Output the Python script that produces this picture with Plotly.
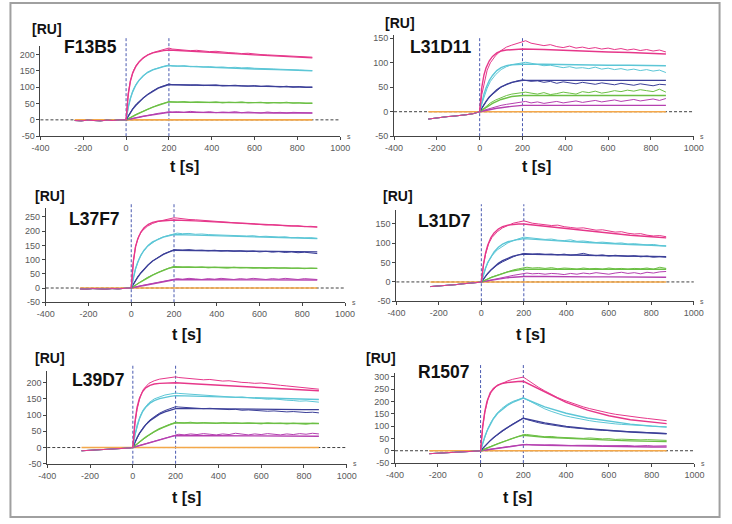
import plotly.graph_objects as go

# ---------------- data ----------------
T_PRE = [-240, -210, -180, -150, -120, -90, -60, -30, -10]
T_ASSOC = [0, 10, 20, 35, 50, 75, 100, 125, 150, 175, 200]
T_DISS = [215, 240, 270, 300, 330, 360, 390, 420, 450, 480, 510, 540,
          570, 600, 630, 660, 690, 720, 750, 780, 810, 840, 870]
T_FIT = [0, 5, 10, 20, 30, 45, 60, 80, 100, 125, 150, 175, 200,
         300, 400, 500, 600, 700, 800, 870]
T_BLANK = [-240, 870]
BLANK = [0, 0]
INJECTION = [0, 200]
X_TICKS = [-400, -200, 0, 200, 400, 600, 800, 1000]
CONC_COLORS = ["#e6378a", "#5cc6d6", "#3b3f98", "#6cbf45", "#b540b0"]
BLANK_COLOR = "#f4a84a"

PANELS = ["F13B5", "L31D11", "L37F7", "L31D7", "L39D7", "R1507"]

# ---- F13B5 ----
F13B5_YTICKS = [-50, 0, 50, 100, 150, 200]
F13B5_BASE = [-2, -3, -1, -2, -3, -1, -2, 0, -1]
F13B5_MEAS = [
    [0, 80, 120, 152, 170, 186, 199, 206, 211, 215, 220,
     217, 215, 214, 212, 213, 210, 209, 210, 207, 206, 205, 203, 204, 201, 200, 199, 198, 196, 195, 194, 193, 191, 192],
    [0, 39, 66, 95, 113, 131, 146, 154, 160, 164, 168,
     165, 164, 166, 163, 164, 162, 163, 161, 162, 160, 161, 159, 160, 158, 158, 157, 156, 155, 155, 153, 153, 152, 151],
    [0, 12, 24, 38, 50, 64, 78, 89, 98, 104, 110,
     108, 107, 108, 106, 107, 105, 106, 107, 104, 105, 106, 104, 103, 105, 102, 104, 103, 101, 103, 100, 102, 99, 100],
    [0, 3, 8, 13, 18, 25, 33, 40, 46, 51, 56,
     55, 54, 56, 53, 55, 54, 53, 55, 52, 54, 53, 55, 52, 53, 54, 51, 53, 52, 54, 51, 52, 50, 51],
    [0, 1, 3, 5, 7, 10, 14, 17, 20, 22, 25,
     24, 25, 23, 26, 24, 23, 25, 22, 24, 23, 25, 22, 24, 23, 21, 24, 22, 23, 21, 23, 22, 20, 21],
]
F13B5_FIT = [
    [0, 45, 78, 118, 142, 163, 177, 190, 198, 205, 209, 212, 214, 211, 207, 203, 199, 196, 192, 190],
    [0, 20, 38, 65, 85, 106, 121, 135, 145, 153, 159, 163, 166, 163, 161, 158, 156, 154, 151, 150],
    [0, 6, 12, 23, 32, 44, 55, 67, 77, 88, 97, 103, 108, 107, 106, 105, 104, 103, 101, 100],
    [0, 2, 3, 7, 10, 15, 20, 26, 32, 39, 45, 50, 55, 54, 54, 53, 53, 52, 52, 51],
    [0, 0.5, 1, 2, 4, 6, 8, 11, 13, 16, 19, 21, 23, 23, 22, 22, 22, 21, 21, 21],
]

# ---- L31D11 ----
L31D11_YTICKS = [-50, 0, 50, 100, 150]
L31D11_BASE = [-15, -13, -12, -10, -9, -8, -6, -4, -2]
L31D11_MEAS = [
    [0, 35, 58, 85, 100, 115, 125, 132, 136, 140, 143,
     145, 140, 138, 135, 137, 133, 131, 134, 130, 132, 129, 131, 128, 130, 127, 129, 126, 128, 125, 127, 124, 126, 122],
    [0, 16, 30, 48, 62, 76, 86, 92, 96, 98, 100,
     101, 99, 96, 94, 95, 92, 90, 92, 89, 90, 88, 91, 87, 89, 86, 88, 85, 87, 84, 86, 83, 85, 80],
    [0, 7, 14, 24, 32, 42, 50, 56, 60, 63, 65,
     64, 62, 63, 60, 62, 58, 61, 59, 57, 60, 58, 56, 59, 57, 55, 58, 56, 54, 57, 55, 53, 56, 55],
    [0, 3, 7, 13, 18, 24, 29, 33, 36, 38, 39,
     40, 38, 36, 39, 35, 37, 40, 38, 36, 41, 39, 42, 38, 40, 43, 41, 44, 42, 45, 43, 41, 46, 40],
    [0, 1, 3, 5, 7, 10, 13, 15, 17, 19, 20,
     21, 18, 20, 17, 19, 21, 18, 20, 22, 19, 21, 23, 20, 22, 24, 21, 23, 25, 22, 24, 26, 23, 27],
]
L31D11_FIT = [
    [0, 30, 50, 75, 90, 104, 113, 120, 124, 126, 127, 128, 128, 127, 125, 124, 122, 121, 119, 118],
    [0, 10, 20, 36, 49, 64, 74, 84, 90, 94, 96, 97, 97, 97, 96, 96, 95, 95, 95, 94],
    [0, 4, 8, 15, 21, 30, 37, 45, 51, 56, 60, 62, 64, 64, 64, 64, 64, 64, 64, 64],
    [0, 1.5, 3, 6, 9, 13, 17, 21, 25, 28, 31, 32, 33, 33, 33, 33, 33, 33, 33, 33],
    [0, 0.5, 1, 2, 3, 4, 5, 7, 8, 10, 11, 12, 13, 13, 13, 13, 13, 13, 13, 13],
]

# ---- L37F7 ----
L37F7_YTICKS = [-50, 0, 50, 100, 150, 200, 250]
L37F7_BASE = [-3, -4, -2, -3, -4, -2, -3, -1, -1]
L37F7_MEAS = [
    [0, 93, 146, 182, 200, 217, 227, 234, 239, 243, 247,
     246, 243, 241, 240, 238, 237, 235, 233, 232, 230, 228, 227, 225, 224, 222, 223, 220, 219, 218, 219, 216, 217, 215],
    [0, 37, 67, 100, 122, 146, 160, 172, 180, 186, 192,
     193, 191, 192, 189, 190, 188, 187, 188, 185, 186, 184, 183, 184, 181, 182, 180, 179, 180, 177, 178, 176, 177, 174],
    [0, 14, 27, 44, 58, 79, 95, 108, 119, 127, 135,
     134, 133, 135, 132, 133, 131, 133, 130, 132, 129, 131, 128, 130, 127, 129, 126, 128, 125, 127, 124, 126, 123, 121],
    [0, 5, 10, 18, 26, 37, 46, 55, 63, 70, 76,
     75, 73, 74, 72, 74, 71, 73, 72, 70, 73, 71, 72, 70, 71, 69, 72, 70, 71, 69, 70, 68, 70, 69],
    [0, 2, 3, 6, 9, 13, 17, 21, 25, 28, 32,
     33, 31, 34, 32, 30, 33, 31, 34, 32, 30, 33, 31, 34, 32, 30, 33, 31, 34, 32, 30, 33, 31, 30],
]
L37F7_FIT = [
    [0, 55, 95, 145, 172, 197, 212, 224, 231, 235, 237, 238, 239, 236, 232, 227, 223, 219, 216, 214],
    [0, 20, 38, 68, 90, 115, 133, 150, 162, 172, 179, 184, 188, 186, 184, 181, 179, 177, 175, 174],
    [0, 7, 14, 27, 38, 53, 66, 82, 95, 108, 118, 126, 133, 132, 131, 130, 129, 128, 127, 127],
    [0, 2, 5, 10, 15, 22, 29, 37, 45, 54, 62, 69, 74, 73, 72, 72, 71, 70, 70, 69],
    [0, 1, 2, 3, 5, 7, 9, 12, 15, 19, 23, 26, 29, 29, 29, 29, 28, 28, 28, 28],
]

# ---- L31D7 ----
L31D7_YTICKS = [-50, 0, 50, 100, 150]
L31D7_BASE = [-12, -11, -10, -9, -7, -5, -4, -2, -1]
L31D7_MEAS = [
    [0, 45, 72, 100, 115, 130, 140, 147, 152, 155, 158,
     156, 152, 150, 148, 146, 147, 143, 141, 139, 140, 136, 134, 135, 131, 129, 130, 126, 124, 125, 121, 119, 120, 117],
    [0, 20, 36, 55, 68, 83, 93, 101, 107, 112, 116,
     115, 113, 112, 110, 111, 108, 107, 109, 105, 106, 104, 102, 103, 101, 100, 101, 98, 99, 97, 96, 97, 94, 93],
    [0, 8, 15, 25, 33, 44, 52, 59, 65, 70, 74,
     73, 72, 73, 71, 72, 70, 72, 69, 71, 74, 70, 68, 70, 67, 69, 68, 66, 68, 65, 67, 64, 66, 64],
    [0, 2, 5, 9, 13, 18, 23, 27, 31, 34, 37,
     38, 36, 37, 35, 37, 34, 36, 35, 33, 36, 34, 35, 33, 36, 34, 35, 33, 35, 34, 36, 33, 38, 35],
    [0, 1, 2, 4, 6, 9, 11, 14, 17, 20, 22,
     23, 21, 22, 20, 22, 21, 19, 22, 20, 23, 21, 24, 22, 20, 23, 25, 22, 24, 21, 25, 23, 26, 27],
]
L31D7_FIT = [
    [0, 25, 45, 75, 95, 115, 127, 137, 143, 147, 149, 150, 150, 144, 138, 132, 126, 121, 117, 114],
    [0, 10, 20, 36, 50, 66, 78, 90, 98, 104, 108, 110, 112, 108, 105, 102, 99, 97, 95, 93],
    [0, 4, 8, 15, 22, 31, 39, 48, 55, 62, 67, 70, 72, 71, 70, 69, 68, 67, 66, 65],
    [0, 1, 2, 5, 7, 11, 14, 18, 22, 26, 29, 31, 33, 33, 33, 33, 33, 33, 33, 33],
    [0, 0.5, 1, 2, 3, 4, 6, 7, 9, 11, 12, 13, 14, 14, 13, 13, 13, 12, 12, 12],
]

# ---- L39D7 ----
L39D7_YTICKS = [-50, 0, 50, 100, 150, 200]
L39D7_BASE = [-10, -9, -9, -7, -6, -5, -4, -2, -1]
L39D7_MEAS = [
    [0, 75, 118, 158, 180, 198, 206, 211, 214, 216, 218,
     216, 214, 212, 211, 209, 210, 207, 205, 206, 203, 201, 200, 198, 199, 196, 194, 192, 190, 188, 186, 183, 181, 180],
    [0, 38, 65, 98, 118, 138, 150, 157, 162, 165, 168,
     167, 166, 164, 163, 161, 162, 159, 158, 157, 155, 156, 153, 152, 151, 149, 150, 147, 146, 145, 143, 144, 141, 140],
    [0, 16, 30, 48, 63, 82, 95, 106, 114, 120, 126,
     125, 124, 122, 123, 120, 121, 119, 118, 117, 118, 115, 116, 114, 113, 112, 113, 111, 110, 111, 109, 108, 109, 107],
    [0, 6, 11, 19, 27, 38, 48, 57, 65, 72, 78,
     77, 76, 78, 75, 77, 76, 74, 77, 75, 76, 74, 76, 75, 73, 76, 74, 75, 73, 75, 74, 72, 75, 74],
    [0, 2, 4, 7, 10, 14, 19, 24, 29, 35, 40,
     41, 39, 42, 40, 43, 41, 39, 42, 40, 44, 41, 39, 42, 40, 43, 41, 39, 42, 40, 43, 41, 44, 42],
]
L39D7_FIT = [
    [0, 45, 80, 125, 150, 172, 184, 192, 196, 198, 199, 200, 200, 196, 192, 188, 184, 180, 177, 175],
    [0, 22, 40, 68, 88, 110, 124, 137, 145, 151, 155, 158, 160, 158, 157, 155, 153, 151, 149, 148],
    [0, 9, 17, 31, 43, 58, 70, 83, 93, 103, 110, 116, 120, 120, 119, 119, 118, 118, 117, 117],
    [0, 3, 6, 12, 17, 25, 32, 41, 49, 58, 65, 71, 76, 76, 75, 75, 75, 74, 74, 74],
    [0, 1, 2, 4, 6, 9, 12, 16, 20, 25, 29, 33, 37, 37, 36, 36, 36, 35, 35, 35],
]

# ---- R1507 ----
R1507_YTICKS = [-50, 0, 50, 100, 150, 200, 250, 300]
R1507_BASE = [-12, -11, -10, -9, -8, -6, -4, -2, -1]
R1507_MEAS = [
    [0, 95, 155, 210, 238, 262, 274, 283, 290, 295, 299,
     290, 275, 258, 243, 229, 216, 205, 195, 186, 178, 171, 164, 158, 153, 148, 144, 140, 137, 134, 131, 128, 125, 122],
    [0, 30, 56, 92, 118, 150, 172, 188, 200, 208, 215,
     208, 196, 182, 170, 160, 151, 143, 137, 131, 126, 122, 118, 114, 111, 109, 107, 105, 103, 101, 100, 99, 98, 97],
    [0, 10, 19, 33, 45, 62, 78, 95, 108, 121, 133,
     127, 120, 114, 109, 104, 100, 97, 94, 91, 89, 87, 85, 83, 82, 80, 78, 77, 76, 74, 73, 72, 71, 70],
    [0, 4, 8, 14, 19, 27, 35, 43, 51, 58, 65,
     66, 62, 60, 57, 58, 55, 53, 54, 51, 50, 52, 49, 48, 49, 46, 47, 45, 46, 44, 45, 43, 44, 42],
    [0, 1, 3, 5, 7, 10, 13, 16, 19, 22, 25,
     26, 24, 25, 23, 24, 22, 23, 21, 22, 23, 21, 22, 20, 21, 22, 20, 21, 19, 20, 21, 19, 20, 20],
]
R1507_FIT = [
    [0, 55, 100, 160, 200, 235, 253, 266, 273, 277, 280, 281, 282, 238, 196, 165, 142, 126, 115, 110],
    [0, 16, 32, 58, 80, 108, 130, 152, 168, 184, 196, 206, 214, 178, 152, 133, 119, 108, 100, 96],
    [0, 5, 10, 19, 28, 41, 53, 67, 80, 94, 107, 120, 132, 113, 99, 89, 81, 76, 72, 69],
    [0, 2, 4, 7, 11, 16, 21, 28, 35, 43, 50, 57, 63, 55, 50, 46, 43, 40, 38, 37],
    [0, 0.5, 1, 2, 3, 5, 7, 9, 12, 15, 18, 22, 25, 22, 20, 18, 17, 16, 15, 15],
]

DATA = {
    "F13B5": (F13B5_BASE, F13B5_MEAS, F13B5_FIT, F13B5_YTICKS),
    "L31D11": (L31D11_BASE, L31D11_MEAS, L31D11_FIT, L31D11_YTICKS),
    "L37F7": (L37F7_BASE, L37F7_MEAS, L37F7_FIT, L37F7_YTICKS),
    "L31D7": (L31D7_BASE, L31D7_MEAS, L31D7_FIT, L31D7_YTICKS),
    "L39D7": (L39D7_BASE, L39D7_MEAS, L39D7_FIT, L39D7_YTICKS),
    "R1507": (R1507_BASE, R1507_MEAS, R1507_FIT, R1507_YTICKS),
}

# ---------------- layout (pixel geometry) ----------------
W, H = 732, 524
GEOM = {
    "F13B5": dict(x=(32.3, 340.0), y=(136.0, 45.0), yr=(-50, 225), ru=(39, 27), nm=(84, 46), ts=(180, 167), vtop=35),
    "L31D11": dict(x=(395.3, 703.0), y=(136.0, 33.8), yr=(-50, 156), ru=(401, 21), nm=(444, 46), ts=(542, 167), vtop=35),
    "L37F7": dict(x=(37.7, 345.0), y=(304.3, 209.2), yr=(-50, 280), ru=(42, 197), nm=(88, 220), ts=(182, 337), vtop=204),
    "L31D7": dict(x=(397.7, 703.0), y=(303.3, 210.5), yr=(-50, 187), ru=(399, 197), nm=(447, 222), ts=(535, 337), vtop=205),
    "L39D7": dict(x=(39.3, 346.7), y=(468.0, 373.7), yr=(-50, 237), ru=(42, 361), nm=(92, 383), ts=(182, 502), vtop=367),
    "R1507": dict(x=(396.3, 703.7), y=(467.3, 375.9), yr=(-50, 316), ru=(382, 361), nm=(447, 375), ts=(522, 502), vtop=367),
}

FONT = "Liberation Sans, Arial, sans-serif"
fig = go.Figure()
layout = dict(
    width=W, height=H, margin=dict(l=0, r=0, t=0, b=0),
    paper_bgcolor="white", plot_bgcolor="rgba(0,0,0,0)",
    showlegend=False, font=dict(family=FONT, color="#555555", size=9),
)
shapes = []
annotations = []

for i, name in enumerate(PANELS, start=1):
    base, meas, fit, yticks = DATA[name]
    g = GEOM[name]
    xa = "x" if i == 1 else f"x{i}"
    ya = "y" if i == 1 else f"y{i}"
    xkey = "xaxis" if i == 1 else f"xaxis{i}"
    ykey = "yaxis" if i == 1 else f"yaxis{i}"
    assert all(len(m) == len(T_ASSOC) + len(T_DISS) for m in meas), name
    assert all(len(f) == len(T_FIT) for f in fit), name

    t_meas = T_PRE + T_ASSOC + T_DISS
    fig.add_trace(go.Scatter(x=T_BLANK, y=BLANK, mode="lines", xaxis=xa, yaxis=ya,
                             line=dict(color=BLANK_COLOR, width=1.6), hoverinfo="skip"))
    for k in range(len(meas) - 1, -1, -1):
        fig.add_trace(go.Scatter(x=t_meas, y=base + meas[k], mode="lines", xaxis=xa, yaxis=ya,
                                 line=dict(color=CONC_COLORS[k], width=1)))
        fig.add_trace(go.Scatter(x=T_FIT, y=fit[k], mode="lines", xaxis=xa, yaxis=ya,
                                 line=dict(color=CONC_COLORS[k], width=1.4)))

    x0, x1 = g["x"]
    yb, yt = g["y"]
    layout[xkey] = dict(
        domain=[x0 / W, x1 / W], anchor=ya, range=[-400, 1000],
        tickvals=X_TICKS, ticktext=[str(v) for v in X_TICKS],
        showline=True, linecolor="#444444", linewidth=1, ticks="outside", ticklen=3,
        tickcolor="#444444", showgrid=False, zeroline=False,
        tickfont=dict(size=9, color="#5a5a5a", family=FONT),
    )
    layout[ykey] = dict(
        domain=[1 - yb / H, 1 - yt / H], anchor=xa, range=list(g["yr"]),
        tickvals=yticks, ticktext=[str(v) for v in yticks],
        showline=True, linecolor="#444444", linewidth=1, ticks="outside", ticklen=3,
        tickcolor="#444444", showgrid=False, zeroline=False,
        tickfont=dict(size=9, color="#5a5a5a", family=FONT),
    )
    shapes.append(dict(type="line", xref=f"{xa} domain", yref=ya, x0=0, x1=1, y0=0, y1=0,
                       line=dict(color="#404040", width=1, dash="3px,2px"), layer="below"))
    top_dom = 1 + (yt - g["vtop"]) / (yb - yt)
    for tv in INJECTION:
        shapes.append(dict(type="line", xref=xa, yref=f"{ya} domain", x0=tv, x1=tv, y0=0, y1=top_dom,
                           line=dict(color="#4a5ab0", width=1, dash="3px,2px"), layer="below"))
    annotations += [
        dict(text="<b>[RU]</b>", x=g["ru"][0] / W, y=1 - g["ru"][1] / H, xref="paper", yref="paper",
             showarrow=False, xanchor="center", yanchor="middle",
             font=dict(size=14, color="#111111", family=FONT)),
        dict(text=f"<b>{name}</b>", x=g["nm"][0] / W, y=1 - g["nm"][1] / H, xref="paper", yref="paper",
             showarrow=False, xanchor="center", yanchor="middle",
             font=dict(size=17.5, color="#111111", family=FONT)),
        dict(text="<b>t [s]</b>", x=g["ts"][0] / W, y=1 - g["ts"][1] / H, xref="paper", yref="paper",
             showarrow=False, xanchor="center", yanchor="middle",
             font=dict(size=16, color="#111111", family=FONT)),
        dict(text="s", x=1.015, y=0, xref=f"{xa} domain", yref=f"{ya} domain",
             showarrow=False, xanchor="left", yanchor="middle",
             font=dict(size=7, color="#555555", family=FONT)),
    ]

shapes.append(dict(type="rect", xref="paper", yref="paper", x0=1.5 / W, x1=729.5 / W,
                   y0=1 - 522 / H, y1=1 - 1 / H, line=dict(color="#a0a0a0", width=2)))
layout["shapes"] = shapes
layout["annotations"] = annotations
fig.update_layout(**layout)
fig.write_html(
    "out.html",
    config={"displayModeBar": False},
    post_script="document.body.style.margin='0';document.body.style.overflow='hidden';",
)
